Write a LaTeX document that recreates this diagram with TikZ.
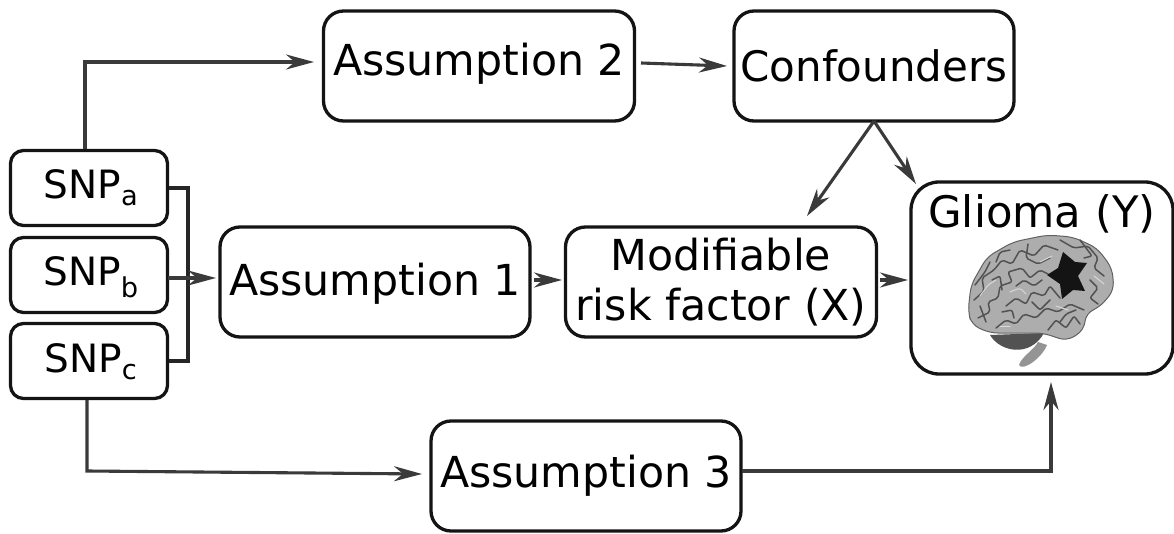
\documentclass[tikz,border=0pt]{standalone}
\usepackage{fontspec}
\setmainfont{DejaVu Sans}
\usetikzlibrary{arrows.meta}
\definecolor{ln}{HTML}{3A3A3A}
\tikzset{
  box/.style={draw=black!92,line width=3.3pt,rounded corners=20pt,fill=white,inner sep=0pt,align=center,font=\fontsize{42.7}{50}\selectfont},
  boxtext/.style={font=\fontsize{42.7}{50}\selectfont,inner sep=0pt},
  smallbox/.style={box,rounded corners=13pt},
  snptext/.style={font=\fontsize{39}{46}\selectfont,inner sep=0pt},
  conn/.style={draw=ln,line width=3.1pt,-{Stealth[length=28pt,width=15pt,inset=9pt]}},
  plain/.style={draw=black!85,line width=3.1pt},
  sulcus/.style={draw=black!68,line width=1.5pt,line join=round,line cap=round,rounded corners=2pt},
  gyrus/.style={draw=black!15,line width=1pt,line join=round,line cap=round,rounded corners=2pt}
}
\begin{document}
\begin{tikzpicture}[x=1pt,y=-1pt]
\useasboundingbox (0,0) rectangle (1174,534);
\fill[white] (0,0) rectangle (1174,534);
\node[box,minimum width=311pt,minimum height=110pt] (a2) at (479,66) {};
\node[boxtext] (a2t) at (479,64) {Assumption 2};
\node[box,minimum width=280pt,minimum height=110pt,font=\fontsize{42}{50}\selectfont] (conf) at (874,66) {Confounders};
\node[box,minimum width=310pt,minimum height=110pt] (a1) at (375,282) {};
\node[boxtext] (a1t) at (375,284) {Assumption 1};
\node[box,minimum width=311pt,minimum height=110pt] (rf) at (721,282) {Modifiable\\risk factor (X)};
\node[box,minimum width=310pt,minimum height=110pt] (a3) at (586,476) {};
\node[boxtext] (a3t) at (586,476) {Assumption 3};
\node[box,minimum width=262pt,minimum height=192pt,rounded corners=28pt] (gl) at (1042,278) {};
\node[font=\fontsize{43.4}{50}\selectfont,inner sep=0pt] (gt) at (1042,214) {Glioma (Y)};
\node[smallbox,minimum width=157pt,minimum height=75pt] (sa) at (89,188) {};
\node[smallbox,minimum width=157pt,minimum height=75pt] (sb) at (89,275) {};
\node[smallbox,minimum width=157pt,minimum height=75pt] (sc) at (89,361) {};
\node[snptext] (sat) at (91,188) {SNP\textsubscript{a}};
\node[snptext] (sbt) at (91,277) {SNP\textsubscript{b}};
\node[snptext] (sct) at (91,362) {SNP\textsubscript{c}};
\coordinate (jt) at (188,188);
\coordinate (jb) at (188,361);
\coordinate (top) at (85,62);
\coordinate (topend) at (314,62);
\coordinate (bot) at (87,471);
\coordinate (botend) at (422,474);
\coordinate (gb) at (1051,471);
\coordinate (glend) at (1051,382);
\coordinate (cs) at (874,121);
\coordinate (a2out) at (641,63);
\coordinate (confin) at (727,66);
\coordinate (a1out) at (534,280);
\coordinate (rfin) at (562,280);
\coordinate (rfout) at (880,280);
\coordinate (glin) at (908,280);
\coordinate (sbout) at (168,278);
\coordinate (a1in) at (216,278);
\coordinate (a3out) at (742,471);
% connectors
\draw[conn] (sa.north -| top) -- (top) -- (topend);
\draw[plain] (sa.east |- jt) -- (jt) -- (jb) -- (sc.east |- jb);
\draw[conn] (sbout) -- (a1in);
\draw[conn] (a2out) -- (confin);
\draw[conn] (a1out) -- (rfin);
\draw[conn] (rfout) -- (glin);
\draw[conn] (cs) -- (807,216);
\draw[conn] (cs) -- (916,184);
\draw[conn] (sc.south -| bot) -- (bot) -- (botend);
\draw[conn] (a3out) -- (gb) -- (glend);
% brain
\fill[black!68] (990,335) .. controls (1000,352) and (1030,358) .. (1044,333) -- cycle;
\fill[black!42] (1038,342) .. controls (1034,350) and (1022,356) .. (1019,365) .. controls (1022,372) and (1042,358) .. (1047,345) -- cycle;
\draw[fill=black!32,draw=black!62,line width=1pt,rounded corners=8pt]
 (968,312) -- (971,285) -- (987,257) -- (1013,242) -- (1047,235) -- (1073,237) -- (1097,248) -- (1112,268) -- (1114,290) -- (1100,307) -- (1086,313) -- (1084,330) -- (1067,341) -- (1043,333) -- (1017,333) -- (990,333) -- (972,325) -- cycle;
\draw[sulcus] (974,300) -- (984,291) -- (982,278) -- (994,270) -- (1002,260) -- (1012,264) -- (1020,250) -- (1034,256) -- (1044,245) -- (1058,250);
\draw[sulcus] (978,318) -- (990,312) -- (988,302) -- (998,298) -- (1000,286) -- (1012,282) -- (1008,272) -- (1022,268) -- (1030,278) -- (1040,270) -- (1048,274);
\draw[sulcus] (996,328) -- (1006,320) -- (1016,324) -- (1024,314) -- (1036,318) -- (1046,308) -- (1058,312) -- (1070,304) -- (1084,310);
\draw[sulcus] (1006,306) -- (1016,298) -- (1026,304) -- (1032,292) -- (1044,296) -- (1050,286) -- (1060,298);
\draw[sulcus] (1016,286) -- (1024,280) -- (1034,286) -- (1042,280);
\draw[sulcus] (1048,330) -- (1056,320) -- (1066,328) -- (1074,316) -- (1080,324);
\draw[sulcus] (1060,240) -- (1074,248) -- (1088,246) -- (1098,258) -- (1094,268) -- (1104,276);
\draw[sulcus] (1090,280) -- (1098,288) -- (1090,298) -- (1098,304);
\draw[sulcus] (980,306) -- (986,322);
\draw[sulcus] (1028,244) -- (1026,258) -- (1038,264) -- (1050,258);
\draw[sulcus] (992,280) -- (1000,276) -- (1002,290);
\draw[sulcus] (975,285) -- (985,272) -- (990,262);
\draw[sulcus] (1002,312) -- (1012,310) -- (1014,318);
\draw[sulcus] (1032,302) -- (1040,310) -- (1050,300);
\draw[sulcus] (1060,322) -- (1066,314) -- (1076,310);
\draw[sulcus] (1010,250) -- (1000,252) -- (996,262);
\draw[sulcus] (1080,240) -- (1092,256) -- (1084,258);
\draw[gyrus] (980,296) -- (988,285) -- (996,280);
\draw[gyrus] (1010,292) -- (1020,288) -- (1026,294);
\draw[gyrus] (1040,262) -- (1052,256);
\draw[gyrus] (1000,326) -- (1010,326);
\draw[gyrus] (1094,276) -- (1104,284);
\draw[gyrus] (1056,306) -- (1068,310);
\fill[black!92] (1063,252) -- (1075,262) -- (1087,263) -- (1078,276) -- (1085,291) -- (1073,290) -- (1062,299) -- (1060,284) -- (1047,275) -- (1058,268) -- cycle;
\end{tikzpicture}
\end{document}
